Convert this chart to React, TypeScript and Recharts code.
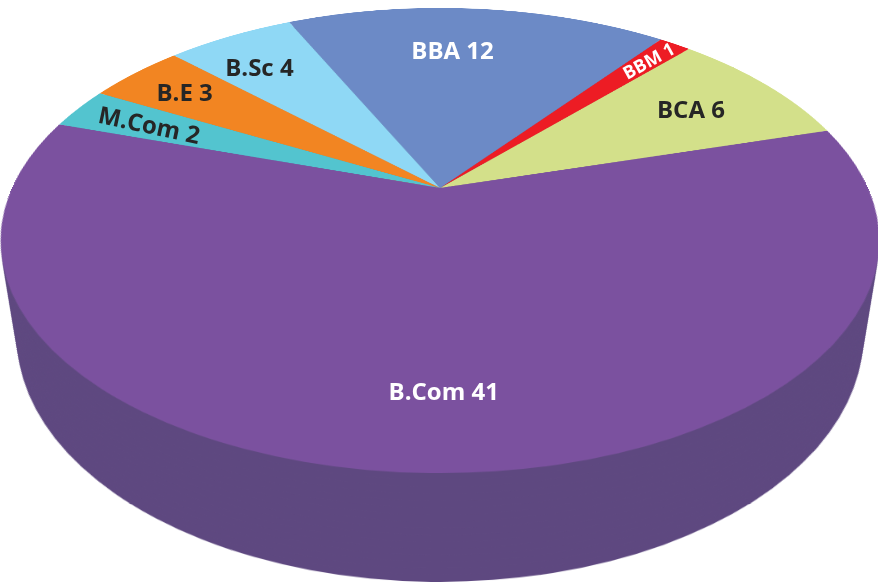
import React from "react";
import { PieChart, Pie, Cell } from "recharts";

// students per course, listed counter-clockwise starting from the BCA slice
const courses = ["BCA", "BBM", "BBA", "B.Sc", "B.E", "M.Com", "B.Com"];
const students = [6, 1, 12, 4, 3, 2, 41];

const topColors = ["#D3E08A", "#ED1C24", "#6C8AC6", "#8FD8F5", "#F28522", "#53C4CF", "#7B519F"];
const sideColors = ["#A2AC6A", "#B6151C", "#536A98", "#6EA6BC", "#BA661A", "#40979F", "#5E4880"];
const labelColors = ["#262626", "#FFFFFF", "#FFFFFF", "#262626", "#262626", "#262626", "#FFFFFF"];

const data = courses.map((name, i) => ({ name, value: students[i] }));

const W = 878;
const H = 584;
const CX = 440; // apex of the pie on screen
const CY = 188;
const R = 428;
const TILT = 58.95; // rotateX in degrees
const PERSP = 1623;
const DEPTH = 115;
const SIDE_LAYERS = 16;
const START = 16;

// label placement: fraction of radius, small angle nudge, tilt
const labelRadius: Record<string, number> = {
  BCA: 0.75, BBM: 0.87, BBA: 0.73, "B.Sc": 0.79, "B.E": 0.82, "M.Com": 0.79, "B.Com": 0.76,
};
const labelNudge: Record<string, number> = { BBA: 3.5, "B.Sc": 2, "B.Com": 1.5 };
const labelTilt: Record<string, number> = { BBM: -29, "M.Com": 12 };

// same projection as the css perspective + rotateX used on the discs
function project(angleDeg: number, r: number) {
  const a = (angleDeg * Math.PI) / 180;
  const t = (TILT * Math.PI) / 180;
  const u = r * Math.cos(a);
  const v = -r * Math.sin(a);
  const k = PERSP / (PERSP - v * Math.sin(t));
  return { x: CX + u * k, y: CY + v * Math.cos(t) * k };
}

function renderLabel(props: any) {
  const { midAngle, index, name, value } = props;
  const { x, y } = project(midAngle + (labelNudge[name] ?? 0), R * (labelRadius[name] ?? 0.76));
  const rot = labelTilt[name] ?? 0;
  return (
    <text
      key={name}
      x={x}
      y={y}
      fill={labelColors[index]}
      textAnchor="middle"
      dominantBaseline="central"
      fontFamily="'Open Sans', sans-serif"
      fontWeight={700}
      fontSize={name === "BBM" ? 18 : 24}
      transform={`rotate(${rot} ${x} ${y})`}
    >
      {`${name} ${value}`}
    </text>
  );
}

function Disc({ colors, z }: { colors: string[]; z: number }) {
  return (
    <div
      style={{
        position: "absolute",
        left: CX - R,
        top: CY - R,
        width: 2 * R,
        height: 2 * R,
        transformOrigin: "50% 50%",
        transform: `rotateX(${TILT}deg) translateZ(${-z}px)`,
      }}
    >
      <PieChart width={2 * R} height={2 * R} margin={{ top: 0, right: 0, bottom: 0, left: 0 }}>
        <Pie
          data={data}
          dataKey="value"
          nameKey="name"
          cx="50%"
          cy="50%"
          outerRadius={R}
          startAngle={START}
          endAngle={START + 360}
          stroke="none"
          isAnimationActive={false}
        >
          {data.map((d, i) => (
            <Cell key={d.name} fill={colors[i]} />
          ))}
        </Pie>
      </PieChart>
    </div>
  );
}

export default function App() {
  const layers = [];
  for (let i = SIDE_LAYERS; i >= 1; i--) {
    layers.push(<Disc key={i} colors={sideColors} z={(DEPTH * i) / SIDE_LAYERS} />);
  }
  return (
    <div
      style={{
        position: "relative",
        width: W,
        height: H,
        overflow: "hidden",
        background: "#fff",
        perspective: `${PERSP}px`,
        perspectiveOrigin: `${CX}px ${CY}px`,
      }}
    >
      <style>{`body{margin:0}`}</style>
      {layers}
      <Disc colors={topColors} z={0} />
      <div style={{ position: "absolute", left: 0, top: 0 }}>
        <PieChart width={W} height={H} margin={{ top: 0, right: 0, bottom: 0, left: 0 }}>
          <Pie
            data={data}
            dataKey="value"
            nameKey="name"
            cx={CX}
            cy={CY}
            outerRadius={R}
            startAngle={START}
            endAngle={START + 360}
            fill="transparent"
            stroke="none"
            label={renderLabel}
            labelLine={false}
            isAnimationActive={false}
          />
        </PieChart>
      </div>
    </div>
  );
}
